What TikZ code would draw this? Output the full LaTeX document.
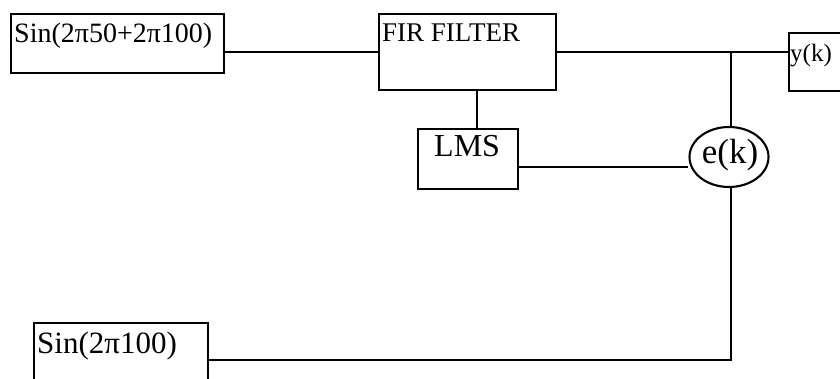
\documentclass[tikz,border=0pt]{standalone}
\usepackage{fontspec}
\setmainfont{Liberation Serif}
\usetikzlibrary{shapes.geometric}
\begin{document}
\begin{tikzpicture}[x=1pt,y=-1pt,
  wire/.style={line width=2.1pt},
  blk/.style={draw,line width=2.1pt,rectangle,inner sep=0pt,anchor=north west},
  lbl/.style={inner sep=0pt,anchor=base west,font=\fontsize{27}{30}\selectfont},
  ell/.style={draw,line width=2.1pt,ellipse,inner sep=0pt,minimum width=79pt,minimum height=60pt}]
\useasboundingbox (0,0) rectangle (840,379);
% boxes
\node[blk,minimum width=213pt,minimum height=59pt] (s1) at (10,13) {};
\node[blk,minimum width=177pt,minimum height=76pt] (fir) at (378,13) {};
\node[blk,minimum width=60pt,minimum height=58pt] (yk) at (788,32) {};
\node[blk,minimum width=100pt,minimum height=60pt] (lms) at (417,128) {};
\node[ell] (ek) at (729,157) {};
\node[blk,minimum width=174pt,minimum height=80pt] (s2) at (33,322) {};
% texts
\node[lbl,font=\fontsize{28}{32}\selectfont] (t1) at (14,43) {Sin(2π50+2π100)};
\node[lbl] (t2) at (382,42) {FIR FILTER};
\node[lbl,font=\fontsize{25}{30}\selectfont] (t3) at (790,62) {y(k)};
\node[lbl,font=\fontsize{32}{36}\selectfont] (t4) at (434,157) {LMS};
\node[lbl,anchor=base,font=\fontsize{35}{40}\selectfont] (t5) at (730,164) {e(k)};
\node[lbl,font=\fontsize{31}{36}\selectfont] (t6) at (37,353) {Sin(2π100)};
% connectors
\coordinate (j) at (731,52);
\draw[wire] (s1.east |- 0,52) -- (fir.west |- 0,52);
\draw[wire] (fir.east |- 0,52) -- (j) -- (yk.west |- 0,52);
\draw[wire] (j) -- (j |- ek.north);
\draw[wire] (fir.south -| 477,0) -- (lms.north -| 477,0);
\draw[wire] (lms.east |- 0,167) -- (ek.west |- 0,167);
\draw[wire] (j |- ek.south) -- (j |- 0,360) -- (s2.east |- 0,360);
\end{tikzpicture}
\end{document}
